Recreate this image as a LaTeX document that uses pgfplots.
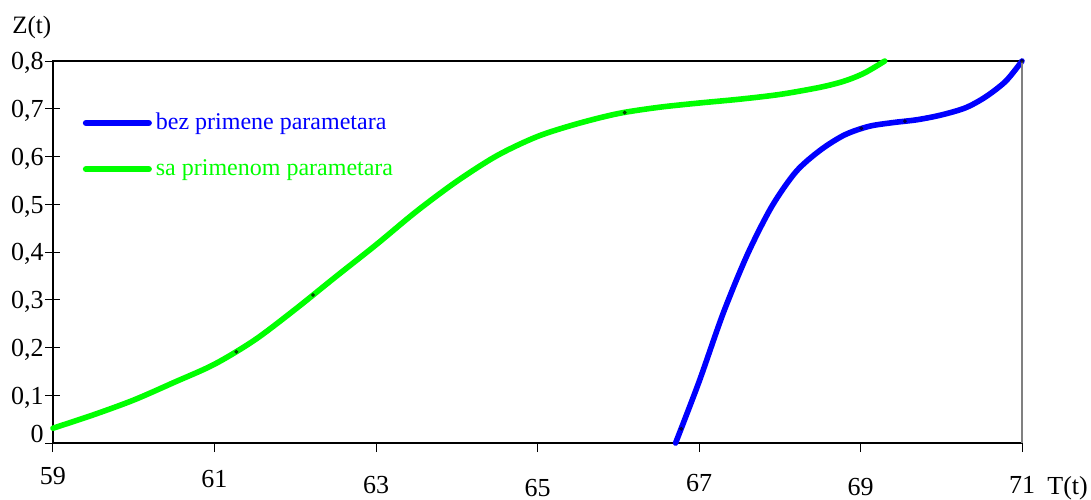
\documentclass[border=0pt]{standalone}
\usepackage{fontspec}
\setmainfont{Liberation Serif}
\usepackage{pgfplots}
\pgfplotsset{compat=1.18}
\definecolor{cblue}{RGB}{0,0,255}
\definecolor{cgreen}{RGB}{0,255,0}
\begin{document}
\begin{tikzpicture}
\useasboundingbox (-26.5pt,-28pt) rectangle (519pt,221.5pt);
\begin{axis}[
  at={(0pt,0pt)}, anchor=south west,
  scale only axis, width=484.5pt, height=191pt,
  xmin=59, xmax=71, ymin=0, ymax=0.8,
  xtick={59,61,63,65,67,69,71},
  xticklabels={\raisebox{6pt}{59},\raisebox{4.5pt}{61},\raisebox{1.5pt}{63},{65},\raisebox{2.5pt}{67},\raisebox{0.5pt}{69},\raisebox{1.5pt}{71}},
  ytick={0,0.1,0.2,0.3,0.4,0.5,0.6,0.7,0.8},
  yticklabels={\raisebox{4.5pt}{0},{0,1},{0,2},{0,3},{0,4},{0,5},{0,6},{0,7},{0,8}},
  tick label style={font=\fontsize{13pt}{15pt}\selectfont},
  xticklabel style={anchor=base, inner sep=0pt, yshift=-19pt},
  yticklabel style={anchor=base east, inner sep=0pt, xshift=-0.75pt, yshift=-4.4pt},
  x tick style={black, line width=0.5pt, /pgfplots/major tick length=4.5pt},
  y tick style={black, line width=0.5pt},
  xtick pos=bottom, ytick pos=left,
  xtick align=outside,
  ytick align=center,
  major tick length=7.5pt,
  axis line style={black, line width=0.6pt},
  legend style={at={(axis cs:59.365,0.70)}, anchor=north west, draw=none, fill=none,
    font=\fontsize{12pt}{14pt}\selectfont, inner sep=0pt, row sep=9.5pt,
    /tikz/every even column/.append style={column sep=4pt}},
  legend cell align=left,
  legend image code/.code={\draw[#1, line width=3pt, line cap=round] (0pt,0pt) -- (31.5pt,0pt);},
  clip=false,
]
\addplot[cblue, line width=2.8pt, smooth, line cap=round] coordinates {
(66.71,0) (67.0,0.128) (67.3,0.272) (67.6,0.395) (67.9,0.495) (68.2,0.568)
(68.5,0.613) (68.8,0.645) (69.1,0.663) (69.4,0.671) (69.7,0.677) (70.0,0.687)
(70.3,0.702) (70.55,0.725) (70.8,0.758) (71,0.8)};
\addlegendentry{\textcolor{cblue}{bez primene parametara}}
\addplot[cgreen, line width=2.8pt, smooth, line cap=round] coordinates {
(59,0.031) (59.5,0.059) (60,0.09) (60.5,0.127) (61,0.165) (61.5,0.216)
(62,0.28) (62.5,0.348) (63,0.415) (63.5,0.485) (64,0.548) (64.5,0.602)
(65,0.642) (65.5,0.669) (66,0.69) (66.5,0.703) (67,0.712) (67.5,0.72)
(68,0.73) (68.5,0.745) (68.8,0.758) (69.05,0.775) (69.3,0.8)};
\addlegendentry{\textcolor{cgreen}{sa primenom parametara}}
\addplot[only marks, mark=*, mark size=0.8pt, black, opacity=0.6, forget plot] coordinates {
(61.27,0.191) (62.22,0.31) (66.08,0.692) (66.78,0.03) (69.01,0.659) (69.55,0.674) (71,0.8)};
\draw[gray, line width=0.8pt] (rel axis cs:1,0) -- (rel axis cs:1,1);
\node[anchor=base west, inner sep=0pt, font=\fontsize{13pt}{15pt}\selectfont] at ([xshift=12.5pt, yshift=-25.5pt]rel axis cs:1,0) {T(t)};
\node[anchor=base west, inner sep=0pt, font=\fontsize{12.5pt}{15pt}\selectfont] at ([xshift=-20.5pt, yshift=14pt]rel axis cs:0,1) {Z(t)};
\end{axis}
\end{tikzpicture}
\end{document}
